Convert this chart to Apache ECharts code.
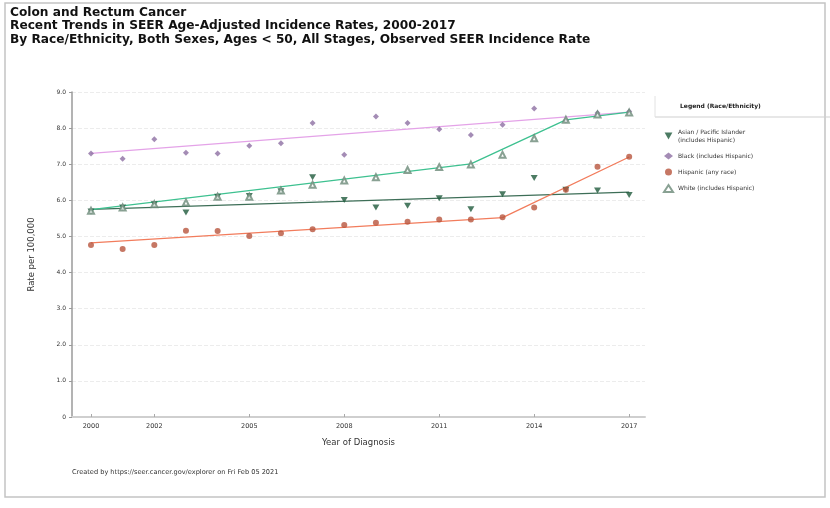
<!DOCTYPE html>
<html>
<head>
<meta charset="utf-8">
<script src="https://cdn.jsdelivr.net/npm/echarts@6/dist/echarts.min.js"></script>
<style>
html,body{margin:0;padding:0;background:#fff;}
#chart{width:830px;height:508px;}
</style>
</head>
<body>
<div id="chart"></div>
<script>
// ---- data ----
const years = [2000,2001,2002,2003,2004,2005,2006,2007,2008,2009,2010,2011,2012,2013,2014,2015,2016,2017];
const xTickLabels = [2000,2002,2005,2008,2011,2014,2017];
const yTicks = [0,1,2,3,4,5,6,7,8,9];

const asianObs    = [5.69,5.80,5.89,5.66,6.10,6.12,6.25,6.64,6.01,5.80,5.85,6.06,5.75,6.17,6.62,6.29,6.27,6.15];
const blackObs    = [7.30,7.15,7.69,7.32,7.30,7.51,7.58,8.14,7.26,8.32,8.14,7.97,7.81,8.09,8.54,8.22,8.42,8.46];
const hispanicObs = [4.76,4.65,4.76,5.16,5.15,5.01,5.09,5.20,5.32,5.38,5.41,5.47,5.47,5.53,5.80,6.29,6.93,7.21];
const whiteObs    = [5.71,5.80,5.89,5.94,6.10,6.10,6.27,6.43,6.55,6.64,6.84,6.92,6.99,7.26,7.72,8.23,8.38,8.43];

// joinpoint trend segments: [year, fitted rate] at segment ends
const asianTrend    = [[2000,5.75],[2017,6.23]];
const blackTrend    = [[2000,7.30],[2017,8.44]];
const hispanicTrend = [[2000,4.82],[2013,5.52],[2017,7.20]];
const whiteTrend    = [[2000,5.74],[2012,7.01],[2015,8.23],[2017,8.44]];

const seriesNames = ['Asian / Pacific Islander\n(includes Hispanic)','Black (includes Hispanic)','Hispanic (any race)','White (includes Hispanic)'];

const titleLines = ['Colon and Rectum Cancer',
  'Recent Trends in SEER Age-Adjusted Incidence Rates, 2000-2017',
  'By Race/Ethnicity, Both Sexes, Ages < 50, All Stages, Observed SEER Incidence Rate'];
const footerText = 'Created by https://seer.cancer.gov/explorer on Fri Feb 05 2021';

// ---- chart ----
const FONT = '"DejaVu Sans", Verdana, sans-serif';
const markerColors = ['#1f5a3c','#8d6fa3','#b8553d','#6b8a78'];
const lineColors   = ['#3d6e57','#e4a3e8','#f27c5c','#3ec190'];
const symbols = ['path://M0,0 L10,0 L5,9 Z','diamond','circle','emptyTriangle'];
const obs = [asianObs, blackObs, hispanicObs, whiteObs];
const trends = [asianTrend, blackTrend, hispanicTrend, whiteTrend];

const series = [];
trends.forEach((t,i)=>{
  series.push({
    name: 'trend'+i, type:'line', data:t, showSymbol:false, silent:true,
    lineStyle:{color:lineColors[i], width:1.3}, z:2
  });
});
obs.forEach((o,i)=>{
  series.push({
    name: seriesNames[i], type:'scatter',
    data: years.map((y,k)=>[y,o[k]]),
    symbol: symbols[i], symbolSize: i===3?6:(i===0?[7,6]:6),
    itemStyle:{color: markerColors[i], borderWidth: i===3?1:0},
    z:3
  });
});

const chart = echarts.init(document.getElementById('chart'), null, {renderer:'canvas'});
chart.setOption({
  animation:false,
  textStyle:{fontFamily:FONT},
  grid:{left:72, right:185, top:92, bottom:91, containLabel:false},
  xAxis:{
    type:'value', min:1999.4, max:2017.5,
    name:'Year of Diagnosis', nameLocation:'middle', nameGap:21,
    nameTextStyle:{fontSize:8.5, color:'#333', fontFamily:FONT},
    axisLine:{lineStyle:{color:'#cfcfcf', width:2}},
    axisTick:{show:true, customValues:xTickLabels, length:3, inside:true, lineStyle:{color:'#aaa'}},
    axisLabel:{customValues:xTickLabels, fontSize:6.5, color:'#333', margin:6, formatter:v=>String(v)},
    splitLine:{show:false}
  },
  yAxis:{
    type:'value', min:0, max:9, interval:1,
    name:'Rate per 100,000', nameLocation:'middle', nameGap:36, nameRotate:90,
    nameTextStyle:{fontSize:8.5, color:'#333', fontFamily:FONT},
    axisLine:{show:true, lineStyle:{color:'#9a9a9a', width:1.5}},
    axisTick:{show:true, length:3, lineStyle:{color:'#9a9a9a'}},
    axisLabel:{fontSize:6, color:'#333', margin:6, formatter:v=> v===0 ? '0' : v.toFixed(1)},
    splitLine:{show:true, lineStyle:{color:'#ececec', type:'dashed', width:1}}
  },
  legend:{
    data: seriesNames, orient:'vertical', left:658, top:123,
    itemWidth:9, itemHeight:7, itemGap:8,
    textStyle:{fontSize:6, color:'#333', fontFamily:FONT, lineHeight:8}
  },
  graphic:[
    {type:'rect', shape:{x:5,y:3,width:820,height:494}, style:{fill:null, stroke:'#c4c4c4', lineWidth:1.5}, silent:true},
    {type:'text', left:10, top:6, style:{text:titleLines.join('\n'), font:'bold 12.2px '+FONT, fill:'#111', lineHeight:13.5}},
    {type:'text', left:680, top:103, style:{text:'Legend (Race/Ethnicity)', font:'bold 6px '+FONT, fill:'#222'}},
    {type:'line', shape:{x1:655,y1:117,x2:830,y2:117}, style:{stroke:'#cfcfcf', lineWidth:1}},
    {type:'line', shape:{x1:655,y1:96,x2:655,y2:117}, style:{stroke:'#e2e2e2', lineWidth:1}},
    {type:'text', left:72, top:469, style:{text:footerText, font:'6.6px '+FONT, fill:'#333'}}
  ],
  series: series
});
</script>
</body>
</html>
